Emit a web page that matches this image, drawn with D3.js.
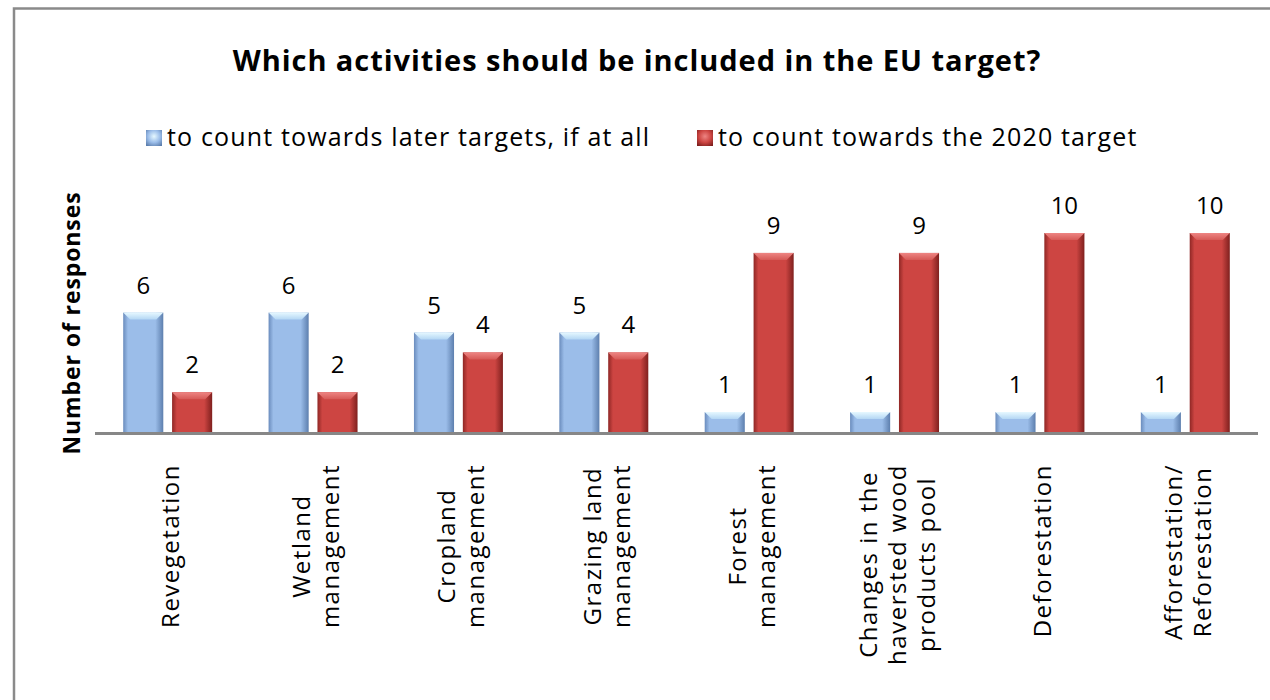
<!DOCTYPE html>
<html>
<head>
<meta charset="utf-8">
<script src="https://cdn.jsdelivr.net/npm/d3@7"></script>
<style>
  html, body { margin: 0; padding: 0; background: #fff; }
  svg { display: block; font-family: "Open Sans", Lato, sans-serif; }
</style>
</head>
<body>
<svg id="chart" width="1270" height="700"></svg>
<script>
// Survey results: which activities should count towards the EU target
const categories = [
  ["Revegetation"],
  ["Wetland", "management"],
  ["Cropland", "management"],
  ["Grazing land", "management"],
  ["Forest", "management"],
  ["Changes in the", "haversted wood", "products pool"],
  ["Deforestation"],
  ["Afforestation/", "Reforestation"]
];
const seriesNames = [
  "to count towards later targets, if at all",
  "to count towards the 2020 target"
];
const laterTargets = [6, 6, 5, 5, 1, 1, 1, 1];
const target2020 = [2, 2, 4, 4, 9, 9, 10, 10];

const svg = d3.select("#chart");

// plot geometry
const plot = { left: 95, right: 1258, top: 233, bottom: 432 };

const catKeys = categories.map(c => c.join(" "));
const x0 = d3.scaleBand().domain(catKeys).range([plot.left, plot.right]).padding(0);
const step = x0.bandwidth();
const x1 = d3.scaleBand().domain([0, 1])
  .range([step * 0.194, step * 0.806]).paddingInner(0.18);
const y = d3.scaleLinear().domain([0, 10]).range([plot.bottom, plot.top]);

// gradients for the bevelled bars
const defs = svg.append("defs");
const palettes = [
  { edgeL: "#6a8cbd", mid: "#9bbde9", edgeR: "#5d7fae", top1: "#e6f8ff", top2: "#b3d6f4" },
  { edgeL: "#8f2725", mid: "#cd4542", edgeR: "#7f201e", top1: "#ee8583", top2: "#d65a57" }
];
palettes.forEach((p, i) => {
  const g = defs.append("linearGradient").attr("id", "body" + i)
    .attr("x1", 0).attr("x2", 1).attr("y1", 0).attr("y2", 0);
  g.append("stop").attr("offset", "0%").attr("stop-color", p.edgeL);
  g.append("stop").attr("offset", "12%").attr("stop-color", p.mid);
  g.append("stop").attr("offset", "80%").attr("stop-color", p.mid);
  g.append("stop").attr("offset", "100%").attr("stop-color", p.edgeR);
  const t = defs.append("linearGradient").attr("id", "top" + i)
    .attr("x1", 0).attr("x2", 0).attr("y1", 0).attr("y2", 1);
  t.append("stop").attr("offset", "0%").attr("stop-color", p.top1);
  t.append("stop").attr("offset", "100%").attr("stop-color", p.top2);
  const k = defs.append("radialGradient").attr("id", "key" + i)
    .attr("cx", "50%").attr("cy", "40%").attr("r", "70%");
  k.append("stop").attr("offset", "0%").attr("stop-color", p.top1);
  k.append("stop").attr("offset", "55%").attr("stop-color", p.mid);
  k.append("stop").attr("offset", "100%").attr("stop-color", p.edgeR);
});

// outer chart frame
svg.append("rect")
  .attr("x", 14).attr("y", 8.5).attr("width", 1300).attr("height", 800)
  .attr("fill", "#fff").attr("stroke", "#8a8a8a").attr("stroke-width", 2.5);

// title
svg.append("text")
  .attr("x", 637).attr("y", 71)
  .attr("text-anchor", "middle")
  .attr("font-weight", "bold").attr("font-size", 29)
  .attr("letter-spacing", 0.95)
  .attr("fill", "#000")
  .text("Which activities should be included in the EU target?");

// legend
const legendPos = [146, 697];
seriesNames.forEach((name, i) => {
  const g = svg.append("g").attr("transform", `translate(${legendPos[i]},130)`);
  g.append("rect").attr("width", 16).attr("height", 16).attr("fill", `url(#key${i})`);
  g.append("text").attr("x", 21).attr("y", 16)
    .attr("font-size", 25).attr("letter-spacing", 1.15)
    .attr("fill", "#000").text(name);
});

// y-axis title
svg.append("text")
  .attr("transform", "translate(80,323) rotate(-90)")
  .attr("text-anchor", "middle")
  .attr("font-weight", "bold").attr("font-size", 23)
  .attr("letter-spacing", 0.9)
  .text("Number of responses");

// bars
const rows = categories.map((c, i) => ({
  key: catKeys[i],
  vals: [laterTargets[i], target2020[i]]
}));

const groups = svg.append("g").selectAll("g.cat").data(rows).join("g")
  .attr("class", "cat")
  .attr("transform", d => `translate(${x0(d.key)},0)`);

const bars = groups.selectAll("g.bar")
  .data(d => d.vals.map((v, s) => ({ v, s })))
  .join("g").attr("class", "bar");

const bw = x1.bandwidth();
bars.append("rect")
  .attr("x", d => x1(d.s)).attr("y", d => y(d.v))
  .attr("width", bw).attr("height", d => y(0) - y(d.v))
  .attr("fill", d => `url(#body${d.s})`);

// bevelled top face
bars.append("path")
  .attr("d", d => {
    const x = x1(d.s), t = y(d.v), b = 7;
    return `M${x},${t}L${x + bw},${t}L${x + bw - b},${t + b}L${x + b},${t + b}Z`;
  })
  .attr("fill", d => `url(#top${d.s})`);

// value labels
bars.append("text")
  .attr("x", d => x1(d.s) + bw / 2)
  .attr("y", d => y(d.v) - 19)
  .attr("text-anchor", "middle")
  .attr("font-size", 24).attr("fill", "#000")
  .text(d => d.v);

// category axis line
svg.append("line")
  .attr("x1", plot.left).attr("x2", plot.right)
  .attr("y1", y(0) + 1.5).attr("y2", y(0) + 1.5)
  .attr("stroke", "#878787").attr("stroke-width", 3);

// rotated, multi-line category labels
const lineH = 29;
const labelTop = 464;
categories.forEach((lines, i) => {
  const cx = x0(catKeys[i]) + step / 2 + 2;
  const g = svg.append("g").attr("transform", `translate(${cx},${labelTop}) rotate(-90)`);
  const texts = lines.map((ln, j) => g.append("text")
    .attr("y", (j - (lines.length - 1) / 2) * lineH)
    .attr("dominant-baseline", "central")
    .attr("text-anchor", "middle")
    .attr("font-size", 24).attr("letter-spacing", 1.5)
    .attr("fill", "#000")
    .text(ln));
  const maxLen = d3.max(texts, t => t.node().getComputedTextLength());
  texts.forEach(t => t.attr("x", -maxLen / 2));
});
</script>
</body>
</html>
